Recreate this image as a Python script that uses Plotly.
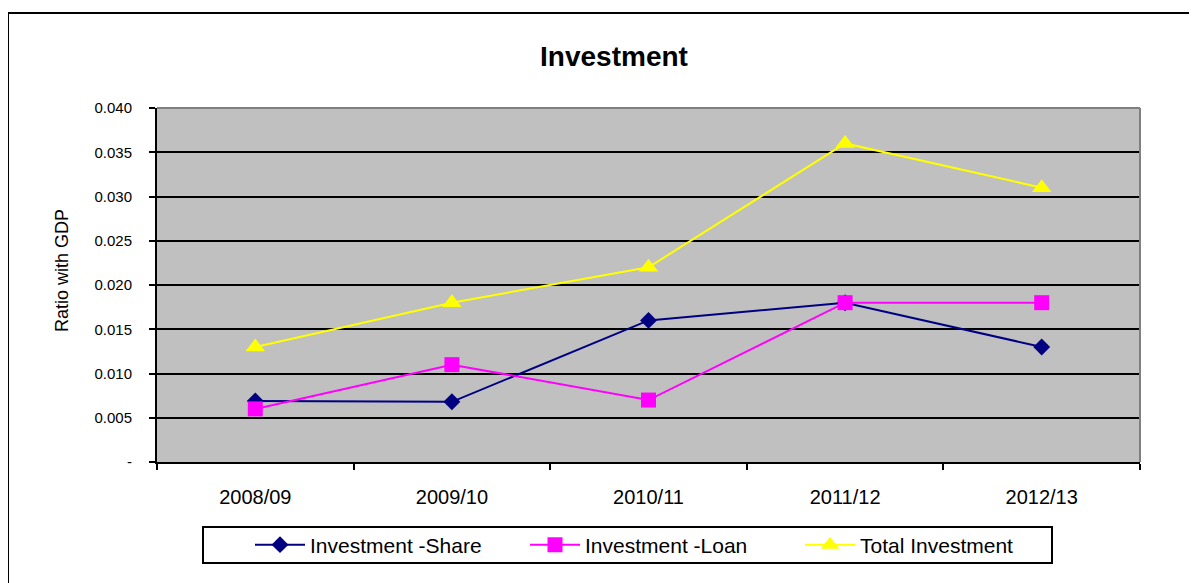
import plotly.graph_objects as go

years = ["2008/09", "2009/10", "2010/11", "2011/12", "2012/13"]
share = [0.0069, 0.0068, 0.016, 0.018, 0.013]
loan = [0.006, 0.011, 0.007, 0.018, 0.018]
total = [0.013, 0.018, 0.022, 0.036, 0.031]
ytick_vals = [0, 0.005, 0.010, 0.015, 0.020, 0.025, 0.030, 0.035, 0.040]
ytick_text = ["-", "0.005", "0.010", "0.015", "0.020", "0.025", "0.030", "0.035", "0.040"]

FONT = "Liberation Sans, Arial, sans-serif"

fig = go.Figure()
fig.add_trace(go.Scatter(x=years, y=share, name="Investment -Share", mode="lines+markers",
                         line=dict(color="#000080", width=2),
                         marker=dict(symbol="diamond", size=13, color="#000080")))
fig.add_trace(go.Scatter(x=years, y=loan, name="Investment -Loan", mode="lines+markers",
                         line=dict(color="#FF00FF", width=2),
                         marker=dict(symbol="square", size=15, color="#FF00FF")))
fig.add_trace(go.Scatter(x=years, y=total, name="Total Investment", mode="lines+markers",
                         line=dict(color="#FFFF00", width=2),
                         marker=dict(symbol="triangle-up", size=17, color="#FFFF00")))

# page body has an 8px margin, so figure coords = screenshot coords - 8
OFF = 8
W, H = 1189, 575
L, R, T, B = 157 - OFF, 1140 - OFF, 108 - OFF, 462 - OFF
pw, ph = R - L, B - T
def px(x): return (x - OFF - L) / pw
def py(y): return (B - (y - OFF)) / ph

fig.update_layout(
    width=W, height=H,
    margin=dict(l=L, r=W - R, t=T, b=H - B),
    paper_bgcolor="white", plot_bgcolor="#C0C0C0",
    font=dict(family=FONT, color="black"),
    title=dict(text="<b>Investment</b>", x=(614 - OFF) / W, xanchor="center", xref="container",
               y=1 - (56 - OFF) / H, yanchor="middle", yref="container",
               font=dict(size=28, family=FONT, color="black")),
    showlegend=True,
    legend=dict(orientation="h", x=px(250), xanchor="left", y=py(545), yanchor="middle",
                xref="paper", yref="paper", font=dict(size=21, family=FONT),
                entrywidth=210, entrywidthmode="pixels", bgcolor="rgba(0,0,0,0)",
                itemwidth=50),
    xaxis=dict(type="category", showgrid=False, showline=True, linecolor="black", linewidth=2,
               ticks="outside", tickson="boundaries", ticklen=6, tickwidth=2, tickcolor="black",
               tickfont=dict(size=20, family=FONT), ticklabelstandoff=16,
               range=[-0.5, 4.5], zeroline=False),
    yaxis=dict(range=[0, 0.04], tickvals=ytick_vals, ticktext=ytick_text,
               showgrid=True, gridcolor="black", gridwidth=2,
               showline=True, linecolor="black", linewidth=2,
               ticks="outside", ticklen=6, tickwidth=2, tickcolor="black",
               tickfont=dict(size=15, family=FONT), zeroline=False, ticklabelstandoff=14),
    annotations=[
        dict(text="Ratio with GDP", xref="paper", yref="paper", x=px(62), y=py(271),
             xanchor="center", yanchor="middle", textangle=-90, showarrow=False,
             font=dict(size=18, family=FONT, color="black")),
    ],
    shapes=[
        dict(type="line", xref="paper", yref="paper", x0=0, x1=1, y0=1, y1=1,
             line=dict(color="#808080", width=2), layer="above"),
        dict(type="line", xref="paper", yref="paper", x0=1, x1=1, y0=0, y1=1,
             line=dict(color="#808080", width=2), layer="above"),
        dict(type="rect", xref="paper", yref="paper", x0=px(203), x1=px(1052), y0=py(563), y1=py(527),
             line=dict(color="black", width=2), fillcolor="rgba(0,0,0,0)"),
        dict(type="rect", xref="paper", yref="paper", x0=px(8), x1=px(1230), y0=py(620), y1=py(13),
             line=dict(color="black", width=2), fillcolor="rgba(0,0,0,0)"),
    ],
)

fig.write_html("out.html")
